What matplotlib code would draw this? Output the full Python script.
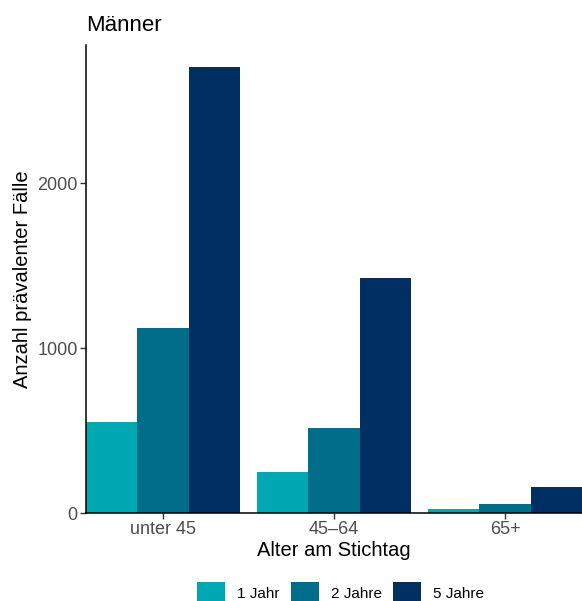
import numpy as np
import matplotlib
matplotlib.use("Agg")
import matplotlib.pyplot as plt

plt.rcParams['font.family'] = ['Liberation Sans', 'DejaVu Sans']

# Daten
altersgruppen = ["unter 45", "45\u201364", "65+"]
serien = ["1 Jahr", "2 Jahre", "5 Jahre"]
jahr1 = [550, 248, 24]
jahre2 = [1121, 515, 56]
jahre5 = [2705, 1425, 160]
farben = ["#00A8B4", "#006E8A", "#003063"]

fig = plt.figure(figsize=(5.82, 6.01), dpi=100)
ax = fig.add_axes([86/582, 1 - 513/601, 1 - 86/582, (513 - 45)/601])

x = np.arange(1, len(altersgruppen) + 1)
w = 0.3
for i, (werte, name) in enumerate(zip([jahr1, jahre2, jahre5], serien)):
    ax.bar(x + (i - 1) * w, werte, width=w, color=farben[i], label=name)

ax.set_xlim(0.55, 3.45)
ax.set_ylim(0, max(jahre5) * 1.05)
ax.set_yticks([0, 1000, 2000])
ax.set_xticks(x)
ax.set_xticklabels(altersgruppen)

for s in ["top", "right"]:
    ax.spines[s].set_visible(False)
for s in ["left", "bottom"]:
    ax.spines[s].set_linewidth(1.1)
    ax.spines[s].set_color("black")
ax.tick_params(axis="both", colors="#333333", length=4, width=1.0,
               labelsize=13, labelcolor="#4D4D4D", pad=2)

ax.set_xlabel("Alter am Stichtag", fontsize=14.5, labelpad=2)
ax.set_ylabel("Anzahl prävalenter Fälle", fontsize=14.5, labelpad=4)
ax.set_title("Männer", loc="left", fontsize=16, pad=10)

fig.legend(loc="center", bbox_to_anchor=(0.585, 1 - 593/601), ncol=3,
           frameon=False, fontsize=11, handlelength=1.83, handleheight=1.83,
           handletextpad=0.78, columnspacing=0.72, borderpad=0)

fig.savefig("out.png", dpi=100)
